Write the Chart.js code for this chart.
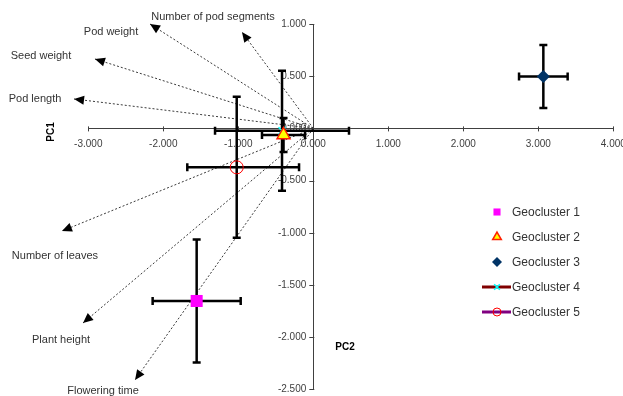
<!DOCTYPE html>
<html>
<head>
<meta charset="utf-8">
<script src="https://cdn.jsdelivr.net/npm/chart.js@4/dist/chart.umd.min.js"></script>
<style>
  html, body { margin: 0; padding: 0; background: #fff; }
  #wrap { width: 623px; height: 396px; position: relative; }
</style>
</head>
<body>
<div id="wrap"><canvas id="chart"></canvas></div>
<script>
// cluster means (PC2 on x, PC1 on y) and their error bars
const clusterNames = ['Geocluster 1', 'Geocluster 2', 'Geocluster 3', 'Geocluster 4', 'Geocluster 5'];
const clusterPC2 = [-1.555, -0.397, 3.067, -0.417, -1.021];
const clusterPC1 = [-1.653, -0.063, 0.497, -0.022, -0.373];
const errPC2Minus = [0.587, 0.287, 0.324, 0.893, 0.659];
const errPC2Plus = [0.587, 0.287, 0.324, 0.893, 0.831];
const errPC1 = [0.589, 0.163, 0.302, 0.575, 0.675];

// trait loading vectors
const traitNames = ['Number of pod segments', 'Pod weight', 'Seed weight', 'Pod length',
  'Number of leaves', 'Plant height', 'Flowering time'];
const traitPC2 = [-0.951, -2.177, -2.911, -3.19, -3.351, -3.07, -2.377];
const traitPC1 = [0.923, 1.0, 0.665, 0.282, -0.983, -1.864, -2.41];

// axis ticks
const xTicks = [-3, -2, -1, 0, 1, 2, 3, 4];
const yTicks = [1, 0.5, 0, -0.5, -1, -1.5, -2, -2.5];

// styles (kept apart from the data)
const markerStyle = [
  { pointStyle: 'rect', radius: 8.5, bg: '#ff00ff', border: '#ff00ff', bw: 0 },
  { pointStyle: 'triangle', radius: 7.5, bg: '#ffff00', border: '#ff2000', bw: 1.5 },
  { pointStyle: 'rectRot', radius: 6.5, bg: '#003366', border: '#003366', bw: 0 },
  { pointStyle: 'crossRot', radius: 5, bg: '#00ffff', border: '#00ffff', bw: 1.5 },
  { pointStyle: 'circle', radius: 6.5, bg: 'rgba(0,0,0,0)', border: '#ff0000', bw: 1 }
];
const legendLine = [null, null, null, '#800000', '#800080'];
const labelDx = [-29, -39, -54, -39, -7, -22, -32];
const labelDy = [-15, 8, -3, 0, 25, 17, 11];

const FONT = '"Liberation Sans", Arial, sans-serif';

const datasets = [];
clusterNames.forEach((name, i) => {
  const m = markerStyle[i];
  datasets.push({
    label: name, kind: 'cluster', order: 1,
    data: [{ x: clusterPC2[i], y: clusterPC1[i] }],
    pointStyle: m.pointStyle, pointRadius: m.radius,
    pointBackgroundColor: m.bg, pointBorderColor: m.border, pointBorderWidth: m.bw,
    showLine: false
  });
});
traitNames.forEach((name, i) => {
  datasets.push({
    label: name, kind: 'trait', order: 2,
    data: [{ x: 0, y: 0 }, { x: traitPC2[i], y: traitPC1[i] }],
    showLine: true, borderColor: '#3a3a3a', borderWidth: 1, borderDash: [2, 2],
    pointRadius: 0
  });
});

function drawMarker(ctx, style, x, y, r) {
  ctx.save();
  ctx.fillStyle = style.bg;
  ctx.strokeStyle = style.border;
  ctx.lineWidth = style.bw;
  Chart.helpers.drawPoint(ctx, { pointStyle: style.pointStyle, radius: r, borderWidth: style.bw }, x, y);
  ctx.restore();
}

const overlay = {
  id: 'overlay',
  beforeDatasetsDraw(chart) {
    chart.$barsDone = false;
    const { ctx, scales: { x, y } } = chart;
    const ox = x.getPixelForValue(0), oy = y.getPixelForValue(0);
    ctx.save();
    ctx.strokeStyle = '#404040';
    ctx.lineWidth = 1;
    ctx.beginPath();
    ctx.moveTo(x.getPixelForValue(xTicks[0]), Math.round(oy) + 0.5);
    ctx.lineTo(x.getPixelForValue(xTicks[xTicks.length - 1]), Math.round(oy) + 0.5);
    ctx.moveTo(Math.round(ox) + 0.5, y.getPixelForValue(yTicks[0]));
    ctx.lineTo(Math.round(ox) + 0.5, y.getPixelForValue(yTicks[yTicks.length - 1]));
    xTicks.forEach(v => {
      const px = Math.round(x.getPixelForValue(v)) + 0.5;
      ctx.moveTo(px, oy - 2); ctx.lineTo(px, oy + 3);
    });
    yTicks.forEach(v => {
      const py = Math.round(y.getPixelForValue(v)) + 0.5;
      ctx.moveTo(ox - 4, py); ctx.lineTo(ox + 1, py);
    });
    ctx.stroke();
    ctx.fillStyle = '#404040';
    ctx.font = '10px ' + FONT;
    ctx.textAlign = 'center';
    ctx.textBaseline = 'middle';
    xTicks.forEach(v => ctx.fillText(v.toFixed(3), x.getPixelForValue(v), oy + 16));
    ctx.textAlign = 'right';
    yTicks.forEach(v => ctx.fillText(v.toFixed(3), ox - 7, y.getPixelForValue(v)));
    ctx.restore();
  },
  beforeDatasetDraw(chart, args) {
    if (chart.$barsDone || chart.data.datasets[args.index].kind !== 'cluster') return;
    chart.$barsDone = true;
    const { ctx, scales: { x, y } } = chart;
    const cap = 4;
    ctx.save();
    ctx.strokeStyle = '#000';
    ctx.lineWidth = 2.5;
    ctx.lineCap = 'butt';
    clusterNames.forEach((n, i) => {
      const cx = x.getPixelForValue(clusterPC2[i]);
      const cy = y.getPixelForValue(clusterPC1[i]);
      const x1 = x.getPixelForValue(clusterPC2[i] - errPC2Minus[i]);
      const x2 = x.getPixelForValue(clusterPC2[i] + errPC2Plus[i]);
      const y1 = y.getPixelForValue(clusterPC1[i] + errPC1[i]);
      const y2 = y.getPixelForValue(clusterPC1[i] - errPC1[i]);
      ctx.beginPath();
      ctx.moveTo(x1, cy); ctx.lineTo(x2, cy);
      ctx.moveTo(x1, cy - cap); ctx.lineTo(x1, cy + cap);
      ctx.moveTo(x2, cy - cap); ctx.lineTo(x2, cy + cap);
      ctx.moveTo(cx, y1); ctx.lineTo(cx, y2);
      ctx.moveTo(cx - cap, y1); ctx.lineTo(cx + cap, y1);
      ctx.moveTo(cx - cap, y2); ctx.lineTo(cx + cap, y2);
      ctx.stroke();
    });
    ctx.restore();
  },
  afterDatasetsDraw(chart) {
    const { ctx, scales: { x, y } } = chart;
    const ox = x.getPixelForValue(0), oy = y.getPixelForValue(0);
    ctx.save();
    // arrowheads and trait labels
    traitNames.forEach((name, i) => {
      const tx = x.getPixelForValue(traitPC2[i]);
      const ty = y.getPixelForValue(traitPC1[i]);
      const a = Math.atan2(ty - oy, tx - ox);
      const len = 10, half = 4.5;
      ctx.fillStyle = '#000';
      ctx.beginPath();
      ctx.moveTo(tx, ty);
      ctx.lineTo(tx - len * Math.cos(a) - half * Math.sin(a), ty - len * Math.sin(a) + half * Math.cos(a));
      ctx.lineTo(tx - len * Math.cos(a) + half * Math.sin(a), ty - len * Math.sin(a) - half * Math.cos(a));
      ctx.closePath();
      ctx.fill();
      ctx.fillStyle = '#333';
      ctx.font = '11px ' + FONT;
      ctx.textAlign = 'center';
      ctx.textBaseline = 'middle';
      ctx.fillText(name, tx + labelDx[i], ty + labelDy[i]);
    });
    // axis titles
    ctx.fillStyle = '#000';
    ctx.font = 'bold 10px ' + FONT;
    ctx.textAlign = 'center';
    ctx.textBaseline = 'middle';
    ctx.fillText('PC2', 345, 347);
    ctx.save();
    ctx.translate(51, 132);
    ctx.rotate(-Math.PI / 2);
    ctx.fillText('PC1', 0, 0);
    ctx.restore();
    // legend
    clusterNames.forEach((name, i) => {
      const ly = 212 + i * 25;
      if (legendLine[i]) {
        ctx.strokeStyle = legendLine[i];
        ctx.lineWidth = 3;
        ctx.beginPath();
        ctx.moveTo(482, ly); ctx.lineTo(511, ly);
        ctx.stroke();
      }
      const m = markerStyle[i];
      drawMarker(ctx, m, 497, ly, m.pointStyle === 'crossRot' ? 4 : m.pointStyle === 'circle' ? 4 : 5);
      ctx.fillStyle = '#333';
      ctx.font = '12px ' + FONT;
      ctx.textAlign = 'left';
      ctx.textBaseline = 'middle';
      ctx.fillText(name, 512, ly + 1);
    });
    ctx.restore();
  }
};

new Chart(document.getElementById('chart'), {
  type: 'scatter',
  data: { datasets },
  options: {
    responsive: true,
    maintainAspectRatio: false,
    animation: false,
    events: [],
    layout: { padding: 0, autoPadding: false },
    scales: {
      x: { type: 'linear', min: -4.177, max: 4.129, display: false },
      y: { type: 'linear', min: -2.5632, max: 1.2299, display: false }
    },
    plugins: { legend: { display: false }, tooltip: { enabled: false } }
  },
  plugins: [overlay]
});
</script>
</body>
</html>
